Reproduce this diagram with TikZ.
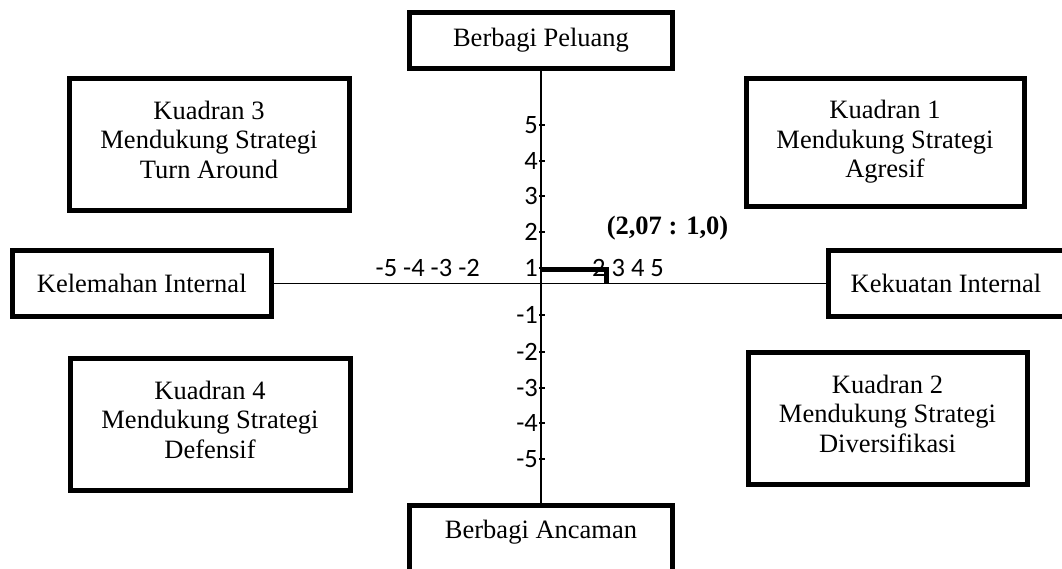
\documentclass[tikz,border=0pt]{standalone}
\usepackage{fontspec}
\setmainfont{Liberation Serif}
\newfontfamily\calibri{Carlito}
\newcommand{\lastdepth}{\rule[-9pt]{0pt}{0pt}}
\begin{document}
\begin{tikzpicture}[x=1pt,y=-1pt,
  box/.style={draw, line width=5pt, rectangle, align=center, inner sep=0pt,
    font=\fontsize{26.5}{29.5}\selectfont},
  num/.style={font=\calibri\fontsize{26.5}{30}\selectfont, inner sep=0pt},
  axis/.style={line width=1.6pt},
  tick/.style={line width=1.2pt},
  marker/.style={line width=5pt}]
\useasboundingbox (0,0) rectangle (1062,568);

% boxes
\node[box, minimum width=263pt, minimum height=56pt] (peluang) at (541,40) {Berbagi Peluang};
\node[box, minimum width=263pt, minimum height=70pt] (ancaman) at (541,540) {Berbagi Ancaman\rule[-22pt]{0pt}{0pt}};
\node[box, minimum width=258.5pt, minimum height=66pt] (kelemahan) at (141.75,283.5) {Kelemahan Internal};
\node[box, minimum width=236pt, minimum height=66pt] (kekuatan) at (946,283.5) {Kekuatan Internal};

\node[box, minimum width=280pt, minimum height=132pt] (k3) at (209,144) {Kuadran 3\\Mendukung Strategi\\Turn Around\lastdepth};
\node[box, minimum width=278pt, minimum height=128pt] (k1) at (885,142) {Kuadran 1\\Mendukung Strategi\\Agresif};
\node[box, minimum width=280pt, minimum height=132pt] (k4) at (210,424) {Kuadran 4\\Mendukung Strategi\\Defensif\lastdepth};
\node[box, minimum width=279pt, minimum height=132pt] (k2) at (887.5,418) {Kuadran 2\\Mendukung Strategi\\Diversifikasi\lastdepth};

% axes
\coordinate (O) at (541,283.5);
\draw[axis] (kelemahan.east) -- (kekuatan.west);
\draw[axis] (peluang.south) -- (ancaman.north);

% vertical ticks and labels
\foreach \y/\l/\n in {125/5/p5,161/4/p4,196/3/p3,232/2/p2,268/1/p1,315/-1/m1,352/-2/m2,388/-3/m3,423/-4/m4,459/-5/m5}{
  \node[num, anchor=east] (t\n) at (538,\y) {\l};
  \draw[tick] (539,\y) -- (545,\y);
}

% horizontal labels
\node[num, anchor=east] (negx) at (480,268) {-5 -4 -3 -2};
\node[num, anchor=west] (posx) at (592,268) {2 3 4 5};

% point marker
\coordinate (m0) at (541,269);
\coordinate (m1) at (606,269);
\draw[marker] (m0) -- (m1) -- (m1 |- O);
\node[font=\bfseries\fontsize{26.5}{30}\selectfont, inner sep=0pt] (pt) at (667.5,228) {(2,07 : 1,0)};
\end{tikzpicture}
\end{document}
